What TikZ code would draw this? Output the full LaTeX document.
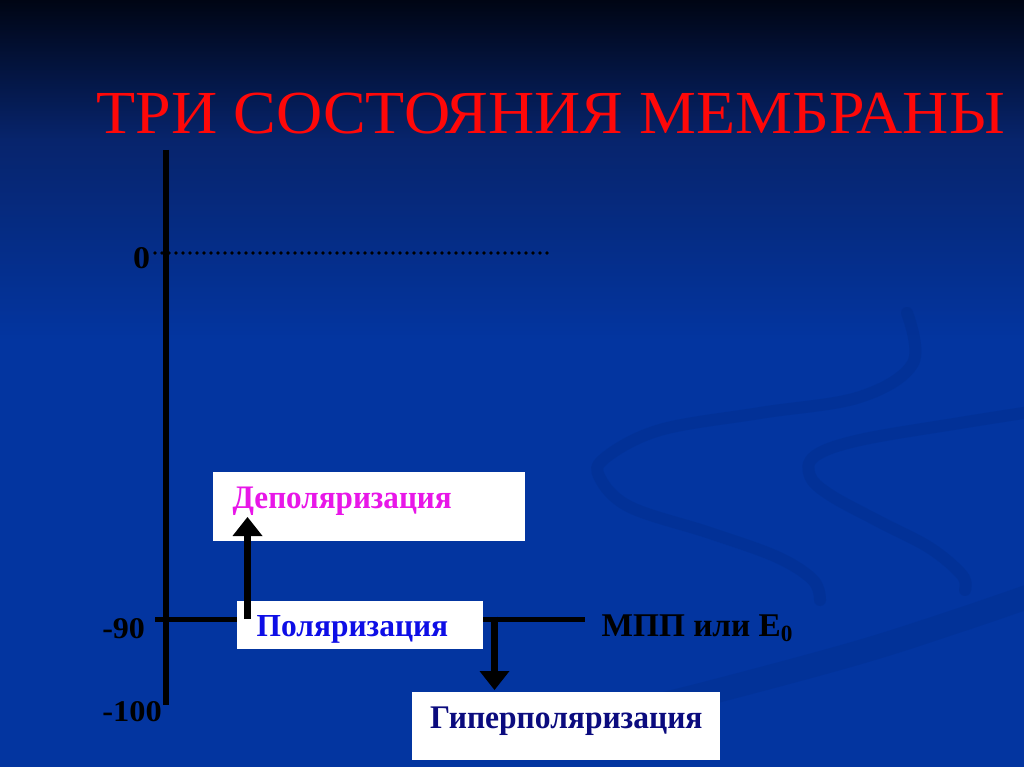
\documentclass[tikz,border=0pt]{standalone}
\usepackage{fontspec}
\setmainfont{Liberation Serif}
\usepackage{graphicx}
\usetikzlibrary{arrows.meta}
\definecolor{bgtop}{HTML}{000514}
\definecolor{bgmid}{HTML}{07246C}
\definecolor{bgmain}{HTML}{0335A0}
\definecolor{swirldark}{HTML}{00287E}
\definecolor{titlered}{HTML}{FF0808}
\definecolor{depmag}{HTML}{E816E8}
\definecolor{polblue}{HTML}{0E0EE6}
\definecolor{hypnavy}{HTML}{0B0B7E}
\begin{document}
\begin{tikzpicture}[x=1pt,y=-1pt,
  txt/.style={inner sep=0pt,outer sep=0pt,anchor=base west},
  wbox/.style={fill=white,draw=none,inner sep=0pt,outer sep=0pt},
  axisline/.style={line width=6pt,black},
  levelline/.style={line width=5pt,black},
  zeroline/.style={line width=3.8pt,black,line cap=round,dash pattern=on 0pt off 7pt},
  arr/.style={line width=6.5pt,black,-{Triangle[width=30pt,length=19pt,line width=0pt]}},
  swirl/.style={swirldark,line cap=round,opacity=0.25}]
\useasboundingbox (0,0) rectangle (1024,767);
% background
\fill[top color=bgtop,bottom color=bgmid] (0,0) rectangle (1024,140);
\fill[top color=bgmid,bottom color=bgmain] (0,139.5) rectangle (1024,340);
\fill[bgmain] (0,339.5) rectangle (1024,767);
% decorative swirls
\draw[swirl,line width=12pt] plot[smooth,tension=0.6] coordinates {(907,313) (913,363) (860,397) (760,413) (660,430) (605,458) (600,478) (630,507) (710,533) (777,557) (813,580) (820,600)};
\draw[swirl,line width=12pt] plot[smooth,tension=0.6] coordinates {(1030,412) (960,423) (860,440) (815,456) (810,476) (830,495) (880,522) (930,548) (962,575) (965,590)};
\draw[swirl,line width=24pt,opacity=0.22] plot[smooth,tension=0.6] coordinates {(600,720) (720,690) (860,652) (960,620) (1030,596)};
% title
\node[txt] (title) at (96.7,133.3) {\color{titlered}\resizebox{908pt}{40.5pt}{ТРИ СОСТОЯНИЯ МЕМБРАНЫ}};
% axis and levels
\coordinate (axtop) at (166,150);
\coordinate (axbot) at (166,705);
\draw[axisline] (axtop) -- (axbot);
\coordinate (zerostart) at (155,253);
\coordinate (zeroend) at (550,253);
\draw[zeroline] (zerostart) -- (zeroend);
\coordinate (tick90) at (155,619);
\coordinate (levelend) at (585,619);
\draw[levelline] (tick90) -- (levelend);
% axis labels
\node[txt] (lbl0) at (133,269) {\resizebox{17pt}{21pt}{\bfseries 0}};
\node[txt] (lbl90) at (102.3,638.3) {\resizebox{42.7pt}{20pt}{\bfseries -90}};
\node[txt] (lbl100) at (102.3,721.7) {\resizebox{59.4pt}{20pt}{\bfseries -100}};
% boxes
\node[wbox,minimum width=312pt,minimum height=69pt] (depbox) at (369,506.5) {};
\node[wbox,minimum width=246pt,minimum height=48pt] (polbox) at (360,625) {};
\node[wbox,minimum width=308pt,minimum height=68pt] (hypbox) at (566,726) {};
% texts
\node[txt] (deptext) at (232.7,508.3) {\color{depmag}\resizebox{219pt}{21.5pt}{\bfseries Деполяризация}};
\node[txt] (poltext) at (256.7,636.2) {\color{polblue}\resizebox{191.5pt}{21pt}{\bfseries Поляризация}};
\node[txt] (hyptext) at (430,728.3) {\color{hypnavy}\resizebox{272.5pt}{21.6pt}{\bfseries Гиперполяризация}};
\node[txt] (mpptext) at (601.7,636.7) {\resizebox{192.5pt}{21.7pt}{\bfseries МПП или Е$_{\mathbf{0}}$}};
% arrows
\coordinate (upfrom) at (247.5,619);
\coordinate (uptip) at (247.5,517);
\draw[arr] (upfrom) -- (uptip);
\coordinate (downfrom) at (494.5,616.5);
\draw[arr] (downfrom) -- ([yshift=2pt]hypbox.north -| downfrom);
\end{tikzpicture}
\end{document}
